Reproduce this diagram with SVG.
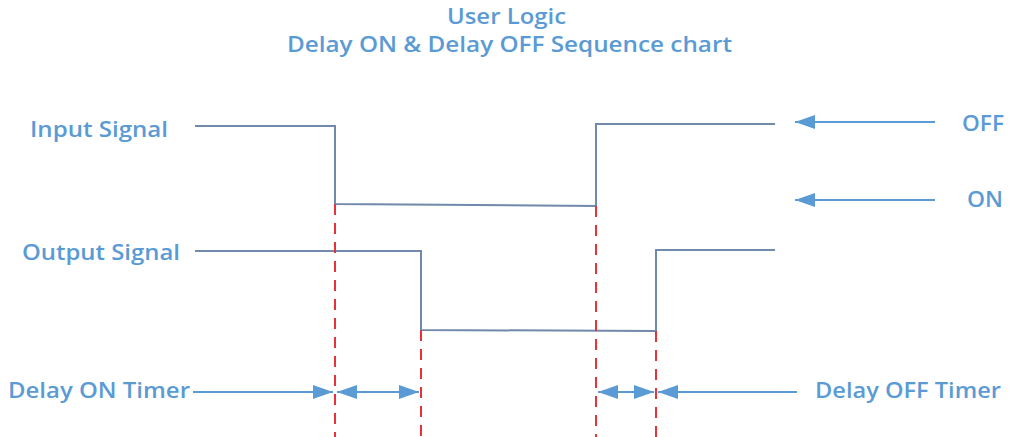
<svg xmlns="http://www.w3.org/2000/svg" width="1015" height="437" viewBox="0 0 1015 437">
<style>
text{font-family:"Open Sans","Noto Sans","Liberation Sans",sans-serif;fill:#5b9bd5;font-size:22px;font-weight:600}
.sig{fill:none;stroke:#7189ab;stroke-width:2}
.dash{stroke:#e8323a;stroke-width:2;stroke-dasharray:11 8;fill:none}
.arr{stroke:#5b9bd5;stroke-width:2;fill:none}
</style>
<defs>
<marker id="ah" viewBox="0 0 20 14" refX="20" refY="7" markerWidth="20" markerHeight="14" markerUnits="userSpaceOnUse" orient="auto-start-reverse">
<path d="M0,0 L20,7 L0,14 Z" fill="#5b9bd5"/>
</marker>
</defs>
<g id="title">
<text x="447" y="24" textLength="119" lengthAdjust="spacingAndGlyphs">User Logic</text>
<text x="287" y="52" textLength="445" lengthAdjust="spacingAndGlyphs">Delay ON &amp; Delay OFF Sequence chart</text>
</g>
<g id="input-signal">
<text x="30" y="137" textLength="138" lengthAdjust="spacingAndGlyphs">Input Signal</text>
<polyline class="sig" points="195,126 335,126 335,204 596,206 596,124 775,124"/>
</g>
<g id="output-signal">
<text x="22" y="260" textLength="158" lengthAdjust="spacingAndGlyphs">Output Signal</text>
<polyline class="sig" points="195,251 421,251 421,330 656,331 656,250 775,250"/>
</g>
<g id="off-label"><text x="962" y="131" textLength="42" lengthAdjust="spacingAndGlyphs">OFF</text></g>
<g id="on-label"><text x="967" y="207" textLength="36" lengthAdjust="spacingAndGlyphs">ON</text></g>
<g id="delay-on-label"><text x="8" y="398" textLength="182" lengthAdjust="spacingAndGlyphs">Delay ON Timer</text></g>
<g id="delay-off-label"><text x="815" y="398" textLength="186" lengthAdjust="spacingAndGlyphs">Delay OFF Timer</text></g>
<g id="connectors">
<line class="dash" x1="335" y1="204" x2="335" y2="437"/>
<line class="dash" x1="421" y1="330" x2="421" y2="437"/>
<line class="dash" x1="596" y1="206" x2="596" y2="437"/>
<line class="dash" x1="656" y1="331" x2="656" y2="437"/>
<line class="arr" x1="935" y1="122" x2="795" y2="122" marker-end="url(#ah)"/>
<line class="arr" x1="935" y1="200" x2="795" y2="200" marker-end="url(#ah)"/>
<line class="arr" x1="193" y1="392" x2="333" y2="392" marker-end="url(#ah)"/>
<line class="arr" x1="337" y1="392" x2="419" y2="392" marker-start="url(#ah)" marker-end="url(#ah)"/>
<line class="arr" x1="598" y1="392" x2="654" y2="392" marker-start="url(#ah)" marker-end="url(#ah)"/>
<line class="arr" x1="797" y1="392" x2="658" y2="392" marker-end="url(#ah)"/>
</g>
</svg>
